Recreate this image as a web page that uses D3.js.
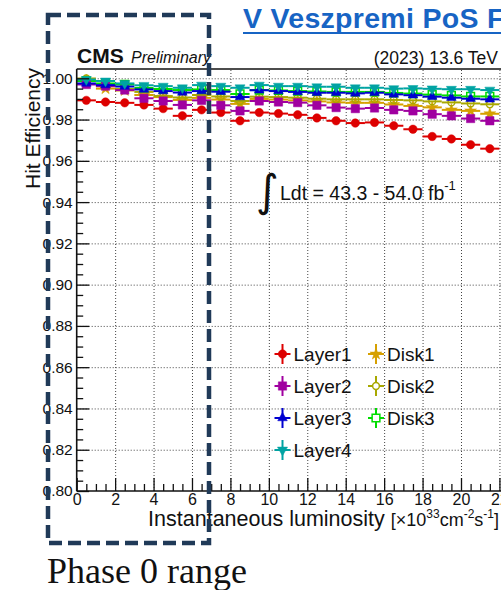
<!DOCTYPE html>
<html>
<head>
<meta charset="utf-8">
<script src="https://cdn.jsdelivr.net/npm/d3@7"></script>
<style>
  html, body { margin: 0; padding: 0; background: #ffffff; overflow: hidden; }
  svg { display: block; font-family: "Liberation Sans", Arial, sans-serif; }
</style>
</head>
<body>
<script>
// Luminosity bins (centres, x10^33 cm^-2 s^-1), each bin is 1 unit wide
const binCenters = [0.5, 1.5, 2.5, 3.5, 4.5, 5.5, 6.5, 7.5, 8.5, 9.5, 10.5,
                    11.5, 12.5, 13.5, 14.5, 15.5, 16.5, 17.5, 18.5, 19.5, 20.5, 21.5];
const binHalfWidth = 0.5;

// Hit efficiency per layer / disk
const layer1 = [0.9893, 0.9885, 0.9881, 0.9871, 0.9853, 0.9818, 0.9847, 0.9834, 0.9794, 0.9834, 0.9829,
                0.9823, 0.9808, 0.9794, 0.9783, 0.9786, 0.9770, 0.9753, 0.9718, 0.9706, 0.9678, 0.9659];
const layer2 = [0.9970, 0.9962, 0.9943, 0.9903, 0.9890, 0.9871, 0.9893, 0.9869, 0.9842, 0.9890, 0.9885,
                0.9882, 0.9869, 0.9858, 0.9853, 0.9856, 0.9847, 0.9842, 0.9826, 0.9818, 0.9805, 0.9794];
const layer3 = [0.9975, 0.9967, 0.9960, 0.9946, 0.9938, 0.9931, 0.9938, 0.9935, 0.9909, 0.9942, 0.9938,
                0.9934, 0.9930, 0.9930, 0.9927, 0.9930, 0.9922, 0.9918, 0.9911, 0.9906, 0.9901, 0.9898];
const layer4 = [0.9994, 0.9987, 0.9975, 0.9966, 0.9962, 0.9954, 0.9967, 0.9962, 0.9954, 0.9967, 0.9962,
                0.9962, 0.9959, 0.9959, 0.9954, 0.9954, 0.9950, 0.9951, 0.9949, 0.9947, 0.9947, 0.9943];
const disk1  = [0.9989, 0.9950, 0.9941, 0.9919, 0.9909, 0.9895, 0.9905, 0.9897, 0.9876, 0.9900, 0.9897,
                0.9893, 0.9888, 0.9883, 0.9881, 0.9881, 0.9873, 0.9866, 0.9859, 0.9847, 0.9842, 0.9828];
const disk2  = [0.9999, 0.9962, 0.9948, 0.9934, 0.9914, 0.9907, 0.9919, 0.9912, 0.9890, 0.9911, 0.9909,
                0.9906, 0.9901, 0.9898, 0.9898, 0.9898, 0.9895, 0.9893, 0.9888, 0.9883, 0.9878, 0.9874];
const disk3  = [0.9987, 0.9975, 0.9970, 0.9953, 0.9948, 0.9943, 0.9946, 0.9943, 0.9924, 0.9943, 0.9941,
                0.9938, 0.9936, 0.9934, 0.9934, 0.9934, 0.9929, 0.9926, 0.9921, 0.9917, 0.9912, 0.9912];

const seriesNames = ["Layer1", "Layer2", "Layer3", "Layer4", "Disk1", "Disk2", "Disk3"];

// Axis ticks
const yTicks = [0.80, 0.82, 0.84, 0.86, 0.88, 0.90, 0.92, 0.94, 0.96, 0.98, 1.00];
const yMinorTicks = d3.range(0, 41).map(i => 0.80 + i * 0.005);
const xTicks = [0, 2, 4, 6, 8, 10, 12, 14, 16, 18, 20, 22];
const xMinorTicks = d3.range(0, 49).map(i => i * 0.5);

// Plot ranges
const xMin = 0, xMax = 24;
const yMin = 0.80, yMax = 1.0045;

// ---- drawing ----
const W = 501, H = 590;
const plot = { left: 76.7, right: 76.7 + 24 * 19.215, top: 69, bottom: 491 };

const svg = d3.select("body").append("svg").attr("width", W).attr("height", H);

const x = d3.scaleLinear().domain([xMin, xMax]).range([plot.left, plot.right]);
const y = d3.scaleLinear().domain([yMin, yMax]).range([plot.bottom, plot.top]);

// dotted grid
const grid = svg.append("g");
grid.append("g")
  .attr("transform", `translate(${plot.left},0)`)
  .call(d3.axisLeft(y).tickValues(yTicks.filter(v => v > yMin)).tickSize(-(plot.right - plot.left)).tickFormat(""))
  .call(g => g.select(".domain").remove())
  .selectAll("line").attr("stroke", "#444").attr("stroke-width", 1).attr("stroke-dasharray", "1,2");
grid.append("g")
  .attr("transform", `translate(0,${plot.bottom})`)
  .call(d3.axisBottom(x).tickValues(xTicks.filter(v => v > xMin)).tickSize(-(plot.bottom - plot.top)).tickFormat(""))
  .call(g => g.select(".domain").remove())
  .selectAll("line").attr("stroke", "#444").attr("stroke-width", 1).attr("stroke-dasharray", "1,2");

// series styles
const styles = {
  Layer1: { values: layer1, color: "#dd0000", symbol: d3.symbolCircle,   size: 56, fill: true,  rotate: 0 },
  Layer2: { values: layer2, color: "#a000a0", symbol: d3.symbolSquare,   size: 70, fill: true,  rotate: 0 },
  Layer3: { values: layer3, color: "#0000d0", symbol: d3.symbolTriangle, size: 40, fill: true,  rotate: 0 },
  Layer4: { values: layer4, color: "#00a3a3", symbol: d3.symbolTriangle, size: 44, fill: true,  rotate: 180 },
  Disk1:  { values: disk1,  color: "#d6a000", symbol: d3.symbolStar,     size: 44, fill: true,  rotate: 0 },
  Disk2:  { values: disk2,  color: "#a8a800", symbol: d3.symbolCircle,   size: 36, fill: false, rotate: 0 },
  Disk3:  { values: disk3,  color: "#00dd00", symbol: d3.symbolSquare,   size: 60, fill: false, rotate: 0 }
};

const drawOrder = ["Disk1", "Disk2", "Disk3", "Layer1", "Layer2", "Layer3", "Layer4"];
const dataLayer = svg.append("g");
drawOrder.forEach(name => {
  const s = styles[name];
  const pts = binCenters.map((c, i) => ({ c, v: s.values[i] }));
  const g = dataLayer.append("g");
  g.selectAll("line.xerr").data(pts).enter().append("line")
    .attr("x1", d => x(d.c - binHalfWidth)).attr("x2", d => x(d.c + binHalfWidth))
    .attr("y1", d => y(d.v)).attr("y2", d => y(d.v))
    .attr("stroke", s.color).attr("stroke-width", 2);
  g.selectAll("path.mk").data(pts).enter().append("path")
    .attr("d", d3.symbol().type(s.symbol).size(s.size))
    .attr("transform", d => `translate(${x(d.c)},${y(d.v)}) rotate(${s.rotate})`)
    .attr("fill", s.fill ? s.color : "#ffffff")
    .attr("fill-opacity", s.fill ? 1 : 0)
    .attr("stroke", s.color).attr("stroke-width", s.fill ? 0.5 : 1.5);
});

// axes with inward ticks
const axes = svg.append("g");
const yAxis = axes.append("g").attr("transform", `translate(${plot.left},0)`)
  .call(d3.axisLeft(y).tickValues(yTicks).tickSize(-12.5).tickPadding(4).tickFormat(d3.format(".2f")));
yAxis.select(".domain").remove();
yAxis.selectAll("line").attr("stroke", "#111").attr("stroke-width", 1.3);
yAxis.selectAll("text").attr("fill", "#111")
  .style("font-size", "15.5px").style("font-family", "'Liberation Sans', Arial, sans-serif");

const yMinor = axes.append("g").attr("transform", `translate(${plot.left},0)`)
  .call(d3.axisLeft(y).tickValues(yMinorTicks.filter(v => !yTicks.some(t => Math.abs(t - v) < 1e-6))).tickSize(-6.5).tickFormat(""));
yMinor.select(".domain").remove();
yMinor.selectAll("line").attr("stroke", "#111").attr("stroke-width", 1.3);

const xAxis = axes.append("g").attr("transform", `translate(0,${plot.bottom})`)
  .call(d3.axisBottom(x).tickValues(xTicks).tickSize(-13).tickPadding(3).tickFormat(d3.format("d")));
xAxis.select(".domain").remove();
xAxis.selectAll("line").attr("stroke", "#111").attr("stroke-width", 1.3);
xAxis.selectAll("text").attr("fill", "#111")
  .style("font-size", "16px").style("font-family", "'Liberation Sans', Arial, sans-serif");

const xMinor = axes.append("g").attr("transform", `translate(0,${plot.bottom})`)
  .call(d3.axisBottom(x).tickValues(xMinorTicks.filter(v => v % 2 !== 0)).tickSize(-7).tickFormat(""));
xMinor.select(".domain").remove();
xMinor.selectAll("line").attr("stroke", "#111").attr("stroke-width", 1.3);

// frame
axes.append("line").attr("x1", plot.left).attr("x2", plot.left).attr("y1", plot.top).attr("y2", plot.bottom)
  .attr("stroke", "#111").attr("stroke-width", 1.6);
axes.append("line").attr("x1", plot.left).attr("x2", plot.right).attr("y1", plot.bottom).attr("y2", plot.bottom)
  .attr("stroke", "#111").attr("stroke-width", 1.6);
axes.append("line").attr("x1", plot.left).attr("x2", plot.right).attr("y1", plot.top).attr("y2", plot.top)
  .attr("stroke", "#111").attr("stroke-width", 1.6);

// axis titles
svg.append("text")
  .attr("transform", `translate(40,${plot.top - 1}) rotate(-90)`)
  .attr("text-anchor", "end").attr("font-size", 21).attr("fill", "#111")
  .text("Hit Efficiency");

const xt = svg.append("text").attr("x", 499).attr("y", 526).attr("text-anchor", "end")
  .attr("font-size", 21.5).attr("fill", "#111");
xt.append("tspan").text("Instantaneous luminosity ");
xt.append("tspan").attr("font-size", 18).text("[×10");
xt.append("tspan").attr("font-size", 12).attr("dy", -8).text("33");
xt.append("tspan").attr("font-size", 18).attr("dy", 8).text("cm");
xt.append("tspan").attr("font-size", 12).attr("dy", -8).text("-2");
xt.append("tspan").attr("font-size", 18).attr("dy", 8).text("s");
xt.append("tspan").attr("font-size", 12).attr("dy", -8).text("-1");
xt.append("tspan").attr("font-size", 18).attr("dy", 8).text("]");

// header labels
svg.append("text").attr("x", 77).attr("y", 63).attr("font-size", 21).attr("font-weight", "bold")
  .attr("fill", "#111").text("CMS");
svg.append("text").attr("x", 131).attr("y", 63).attr("font-size", 16).attr("font-style", "italic")
  .attr("fill", "#111").text("Preliminary");
svg.append("text").attr("x", 498).attr("y", 64).attr("text-anchor", "end").attr("font-size", 17.5)
  .attr("fill", "#111").text("(2023) 13.6 TeV");

// integrated luminosity
svg.append("text").attr("x", 256).attr("y", 206).attr("font-size", 44)
  .style("font-family", "'DejaVu Sans', sans-serif").attr("fill", "#111").text("∫");
const lum = svg.append("text").attr("x", 280).attr("y", 200).attr("font-size", 19.5).attr("fill", "#111");
lum.append("tspan").text("Ldt = 43.3 - 54.0 fb");
lum.append("tspan").attr("font-size", 13).attr("dy", -10).text("-1");

// legend
const legendPos = {
  Layer1: [282.5, 354], Layer2: [282.5, 386], Layer3: [282.5, 418], Layer4: [282.5, 450],
  Disk1: [376, 354], Disk2: [376, 386], Disk3: [376, 418]
};
const legend = svg.append("g");
seriesNames.forEach(name => {
  const s = styles[name];
  const [lx, ly] = legendPos[name];
  const g = legend.append("g").attr("transform", `translate(${lx},${ly})`);
  g.append("line").attr("x1", -8).attr("x2", 8).attr("y1", 0).attr("y2", 0)
    .attr("stroke", s.color).attr("stroke-width", 2);
  g.append("line").attr("x1", 0).attr("x2", 0).attr("y1", -10).attr("y2", 10)
    .attr("stroke", s.color).attr("stroke-width", 2);
  g.append("path").attr("d", d3.symbol().type(s.symbol).size(s.size))
    .attr("transform", `rotate(${s.rotate})`)
    .attr("fill", s.fill ? s.color : "#ffffff")
    .attr("stroke", s.color).attr("stroke-width", s.fill ? 0.5 : 1.5);
  g.append("text").attr("x", 11).attr("y", 7).attr("font-size", 19).attr("fill", "#111").text(name);
});

// presentation title
svg.append("text").attr("x", 243).attr("y", 28).attr("font-size", 28.5).attr("font-weight", "bold")
  .attr("letter-spacing", 0.3).attr("fill", "#1764c4").text("V Veszpremi PoS F");
svg.append("line").attr("x1", 243).attr("x2", 501).attr("y1", 33).attr("y2", 33)
  .attr("stroke", "#1764c4").attr("stroke-width", 2);

// highlighted low-luminosity range
svg.append("rect").attr("x", 48).attr("y", 15).attr("width", 161).attr("height", 528)
  .attr("fill", "none").attr("stroke", "#203a58").attr("stroke-width", 4.5)
  .attr("stroke-dasharray", "13,6");
svg.append("text").attr("x", 47).attr("y", 583).attr("fill", "#111")
  .style("font-size", "36px").style("font-family", "'Liberation Serif', 'Times New Roman', serif")
  .text("Phase 0 range");
</script>
</body>
</html>
